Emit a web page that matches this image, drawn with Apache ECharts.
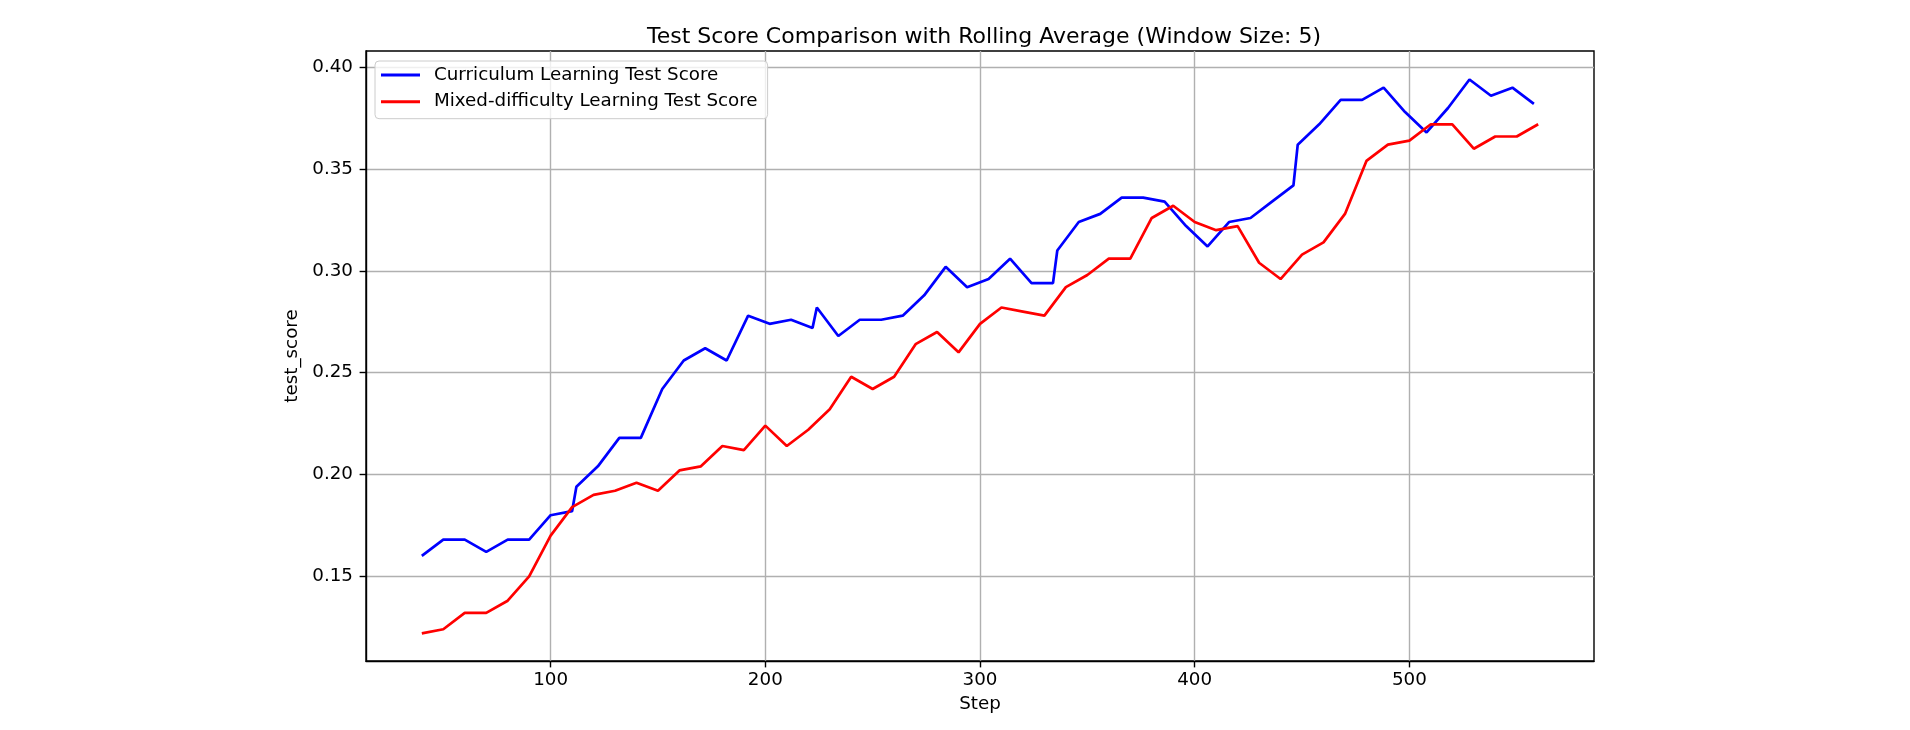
<!DOCTYPE html>
<html>
<head>
<meta charset="utf-8">
<script src="https://cdn.jsdelivr.net/npm/echarts@6/dist/echarts.min.js"></script>
<style>
  html, body { margin: 0; padding: 0; background: #fff; }
  #chart { width: 1910px; height: 730px; }
</style>
</head>
<body>
<div id="chart"></div>
<script>
// values
const curriculumSteps = [40, 50, 60, 70, 80, 90, 100, 110,
  112, 122, 132, 142, 152, 162, 172, 182, 192, 202, 212, 222,
  224, 234, 244, 254, 264, 274, 284, 294, 304, 314, 324, 334,
  336, 346, 356, 366, 376, 386, 396, 406, 416, 426, 436, 446,
  448, 458, 468, 478, 488, 498, 508, 518, 528, 538, 548, 558];
const curriculumScores = [0.160, 0.168, 0.168, 0.162, 0.168, 0.168, 0.180, 0.182,
  0.194, 0.204, 0.218, 0.218, 0.242, 0.256, 0.262, 0.256, 0.278, 0.274, 0.276, 0.272,
  0.282, 0.268, 0.276, 0.276, 0.278, 0.288, 0.302, 0.292, 0.296, 0.306, 0.294, 0.294,
  0.310, 0.324, 0.328, 0.336, 0.336, 0.334, 0.322, 0.312, 0.324, 0.326, 0.334, 0.342,
  0.362, 0.372, 0.384, 0.384, 0.390, 0.378, 0.368, 0.380, 0.394, 0.386, 0.390, 0.382];

const mixedSteps = [40, 50, 60, 70, 80, 90, 100, 110, 120, 130, 140, 150, 160, 170,
  180, 190, 200, 210, 220, 230, 240, 250, 260, 270, 280, 290, 300, 310, 320, 330,
  340, 350, 360, 370, 380, 390, 400, 410, 420, 430, 440, 450, 460, 470, 480, 490,
  500, 510, 520, 530, 540, 550, 560];
const mixedScores = [0.122, 0.124, 0.132, 0.132, 0.138, 0.150, 0.170, 0.184, 0.190, 0.192,
  0.196, 0.192, 0.202, 0.204, 0.214, 0.212, 0.224, 0.214, 0.222, 0.232, 0.248, 0.242,
  0.248, 0.264, 0.270, 0.260, 0.274, 0.282, 0.280, 0.278, 0.292, 0.298, 0.306, 0.306,
  0.326, 0.332, 0.324, 0.320, 0.322, 0.304, 0.296, 0.308, 0.314, 0.328, 0.354, 0.362,
  0.364, 0.372, 0.372, 0.360, 0.366, 0.366, 0.372];

const xTicks = [100, 200, 300, 400, 500];
const yTicks = [0.15, 0.20, 0.25, 0.30, 0.35, 0.40];

const seriesNames = ['Curriculum Learning Test Score', 'Mixed-difficulty Learning Test Score'];

const font = 'DejaVu Sans';
const labelSize = 18.3;
const pair = (xs, ys) => xs.map((x, i) => [x, ys[i]]);

const chart = echarts.init(document.getElementById('chart'));

const option = {
  backgroundColor: '#fff',
  animation: false,
  textStyle: { fontFamily: font },
  title: {
    text: 'Test Score Comparison with Rolling Average (Window Size: 5)',
    left: 979,
    top: 21,
    textAlign: 'center',
    textStyle: { fontFamily: font, fontSize: 22, fontWeight: 'normal', color: '#000' }
  },
  legend: {
    orient: 'vertical',
    left: 375,
    top: 61,
    data: seriesNames,
    icon: 'rect',
    itemWidth: 39,
    itemHeight: 3,
    itemGap: 6.7,
    padding: [4, 10, 7, 6],
    borderColor: '#cccccc',
    borderWidth: 1,
    borderRadius: 4,
    backgroundColor: 'rgba(255,255,255,0.8)',
    textStyle: { fontFamily: font, fontSize: labelSize, color: '#000', lineHeight: 20, padding: [0, 0, 0, 9] }
  },
  grid: { left: 366, right: 316, top: 51, bottom: 69, show: true, borderColor: '#000', borderWidth: 1.4 },
  xAxis: {
    type: 'value',
    min: 14,
    max: 586,
    name: 'Step',
    nameLocation: 'middle',
    nameGap: 34,
    nameTextStyle: { fontFamily: font, fontSize: labelSize, color: '#000' },
    axisLine: { show: true, onZero: false, lineStyle: { color: '#000', width: 1.4 } },
    axisTick: { show: true, length: 6.4, lineStyle: { color: '#000', width: 1.4 }, customValues: xTicks },
    axisLabel: { fontFamily: font, fontSize: labelSize, color: '#000', margin: 10, customValues: xTicks },
    splitLine: { show: true, lineStyle: { color: '#b0b0b0', width: 1.4 } }
  },
  yAxis: {
    type: 'value',
    min: 0.1084,
    max: 0.408,
    name: 'test_score',
    nameLocation: 'middle',
    nameGap: 59,
    nameTextStyle: { fontFamily: font, fontSize: labelSize, color: '#000' },
    axisLine: { show: true, onZero: false, lineStyle: { color: '#000', width: 1.4 } },
    axisTick: { show: true, length: 6.4, lineStyle: { color: '#000', width: 1.4 }, customValues: yTicks },
    axisLabel: {
      fontFamily: font, fontSize: labelSize, color: '#000', margin: 13,
      customValues: yTicks,
      formatter: v => v.toFixed(2)
    },
    splitLine: { show: true, lineStyle: { color: '#b0b0b0', width: 1.4 } }
  },
  series: [
    {
      name: seriesNames[0],
      type: 'line',
      data: pair(curriculumSteps, curriculumScores),
      symbol: 'none',
      color: '#0000ff',
      lineStyle: { color: '#0000ff', width: 2.7 }
    },
    {
      name: seriesNames[1],
      type: 'line',
      data: pair(mixedSteps, mixedScores),
      symbol: 'none',
      color: '#ff0000',
      lineStyle: { color: '#ff0000', width: 2.7 }
    }
  ]
};

chart.setOption(option);
</script>
</body>
</html>
